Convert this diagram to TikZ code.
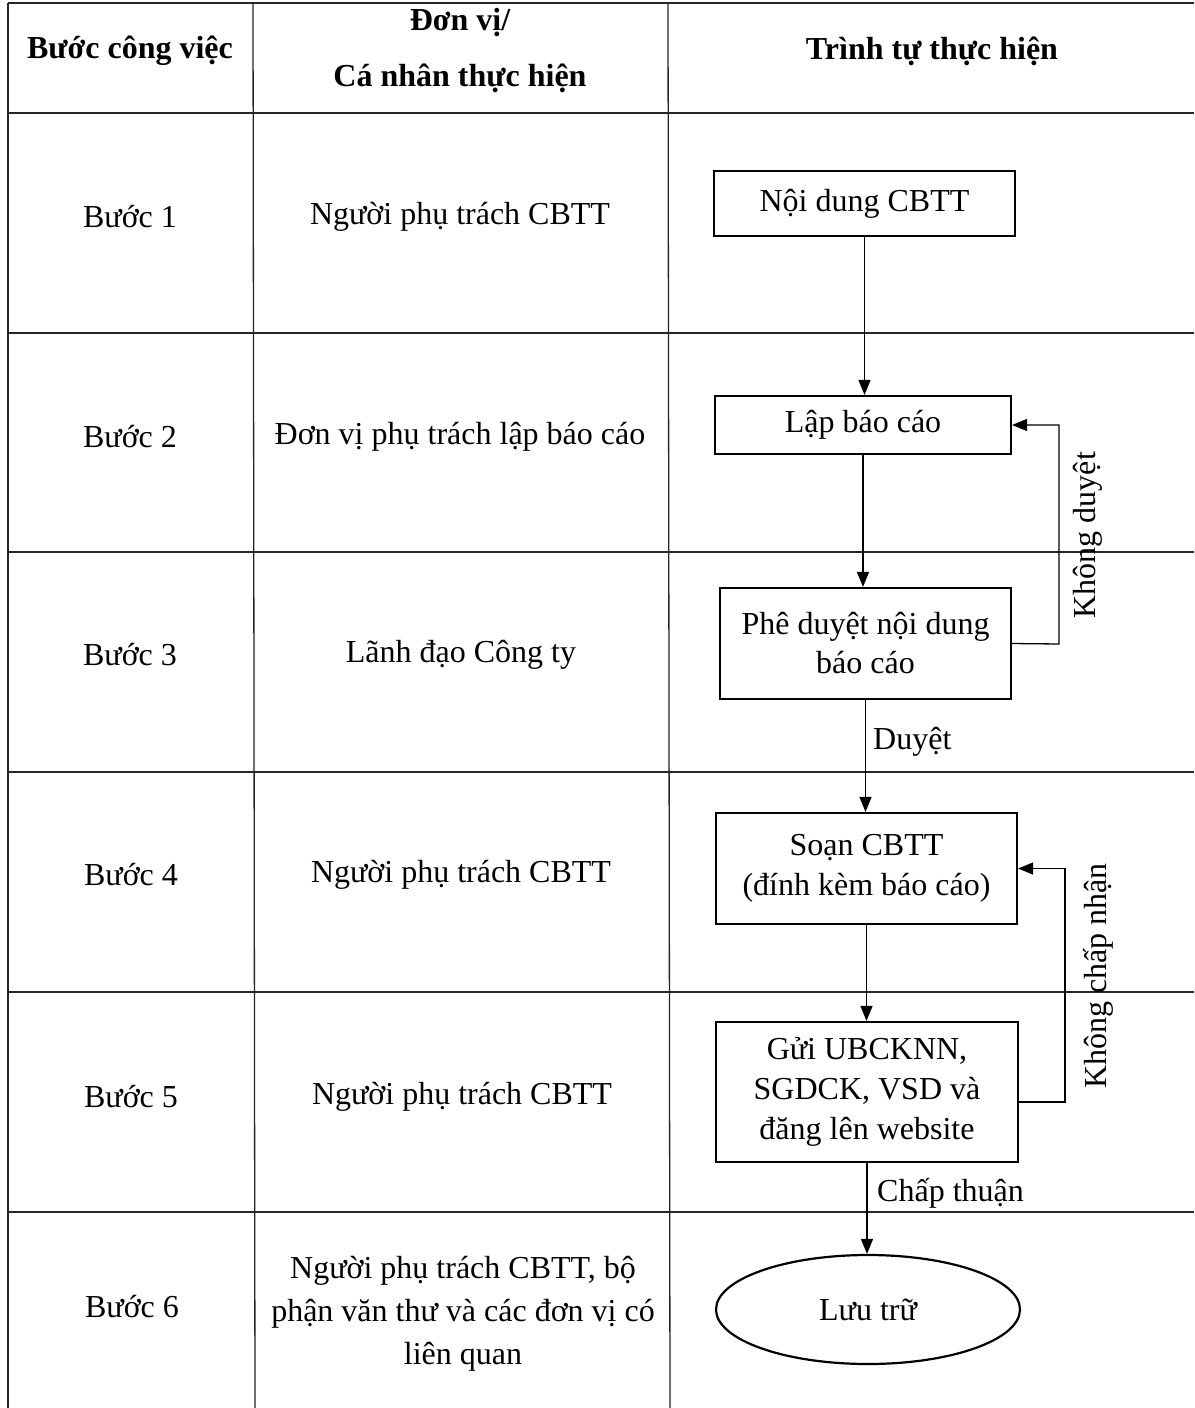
\documentclass[tikz,border=0pt]{standalone}
\usepackage{fontspec}
\setmainfont{Liberation Serif}
\usetikzlibrary{arrows.meta,shapes.geometric}
\begin{document}
\begin{tikzpicture}[x=1pt,y=-1pt,
  every node/.style={font=\fontsize{32}{40}\selectfont},
  grid/.style={line width=1.3pt,black!85},
  stepbox/.style={draw,line width=2.2pt,rectangle,inner sep=0pt,align=center},
  arr/.style={line width=1.3pt,-{Triangle[length=15pt,width=12pt]}},
  hdr/.style={font=\fontsize{32}{56}\selectfont\bfseries,align=center},
  lbl/.style={inner sep=0pt}
]
\useasboundingbox (0,0) rectangle (1194,1408);
\fill[white] (0,0) rectangle (1194,1408);
% table grid
\draw[grid] (8,3) -- (8,1408);
\draw[grid] (253,3) -- (255,1408);
\draw[grid] (668,3) -- (670,1408);
\foreach \yy in {3,113,333,552,772,992,1212} \draw[grid] (8,\yy) -- (1194,\yy);
% header
\node[hdr] (h1) at (130,51) {Bước công việc};
\node[hdr] (h2) at (460,51) {Đơn vị/\\Cá nhân thực hiện};
\node[hdr] (h3) at (932,51) {Trình tự thực hiện};
% column 1
\node (s1) at (130,217) {Bước 1};
\node (s2) at (130,437) {Bước 2};
\node (s3) at (130,655) {Bước 3};
\node (s4) at (131,875) {Bước 4};
\node (s5) at (131,1097) {Bước 5};
\node (s6) at (132,1307) {Bước 6};
% column 2
\node (u1) at (460,217) {Người phụ trách CBTT};
\node (u2) at (460,437) {Đơn vị phụ trách lập báo cáo};
\node (u3) at (461,655) {Lãnh đạo Công ty};
\node (u4) at (461,875) {Người phụ trách CBTT};
\node (u5) at (462,1097) {Người phụ trách CBTT};
\node[align=center,font=\fontsize{32}{43}\selectfont] (u6) at (463,1314) {Người phụ trách CBTT, bộ\\phận văn thư và các đơn vị có\\liên quan};
% flow
\node[stepbox,minimum width=301pt,minimum height=65pt] (n1) at (864.5,203.5) {Nội dung CBTT};
\node[stepbox,minimum width=296pt,minimum height=58pt] (n2) at (863,425) {Lập báo cáo};
\node[stepbox,minimum width=291pt,minimum height=111pt,font=\fontsize{32}{39}\selectfont] (n3) at (865.5,643.5) {Phê duyệt nội dung\\báo cáo};
\node[stepbox,minimum width=301pt,minimum height=111pt,font=\fontsize{32}{40}\selectfont] (n4) at (866.5,868.5) {Soạn CBTT\\(đính kèm báo cáo)};
\node[stepbox,minimum width=302pt,minimum height=140pt,font=\fontsize{32}{40}\selectfont] (n5) at (867,1092) {Gửi UBCKNN,\\SGDCK, VSD và\\đăng lên website};
\node[draw,ellipse,line width=2.2pt,minimum width=304pt,minimum height=109pt,inner sep=0pt] (n6) at (868,1309.5) {Lưu trữ};
% arrows
\draw[arr] (n1.south) -- (n1.south |- n2.north);
\draw[arr] (n2.south) -- (n2.south |- n3.north);
\draw[arr] (n3.south) -- (n3.south |- n4.north);
\draw[arr] (n4.south) -- (n4.south |- n5.north);
\draw[arr] (n5.south) -- (n5.south |- n6.north);
\coordinate (k1) at (1059,644);
\draw[arr] (n3.east) -- (k1) |- (n2.east);
\coordinate (k2a) at (1018,1102);
\coordinate (k2) at (1065,1102);
\draw[arr] (k2a) -- (k2) |- (n4.east);
% labels
\node[lbl,anchor=west] (d1) at (873,742) {Duyệt};
\node[lbl,anchor=west] (d2) at (877,1193) {Chấp thuận};
\node[lbl,rotate=90] (d3) at (1088,535) {Không duyệt};
\node[lbl,rotate=90] (d4) at (1098,976) {Không chấp nhận};
\end{tikzpicture}
\end{document}
